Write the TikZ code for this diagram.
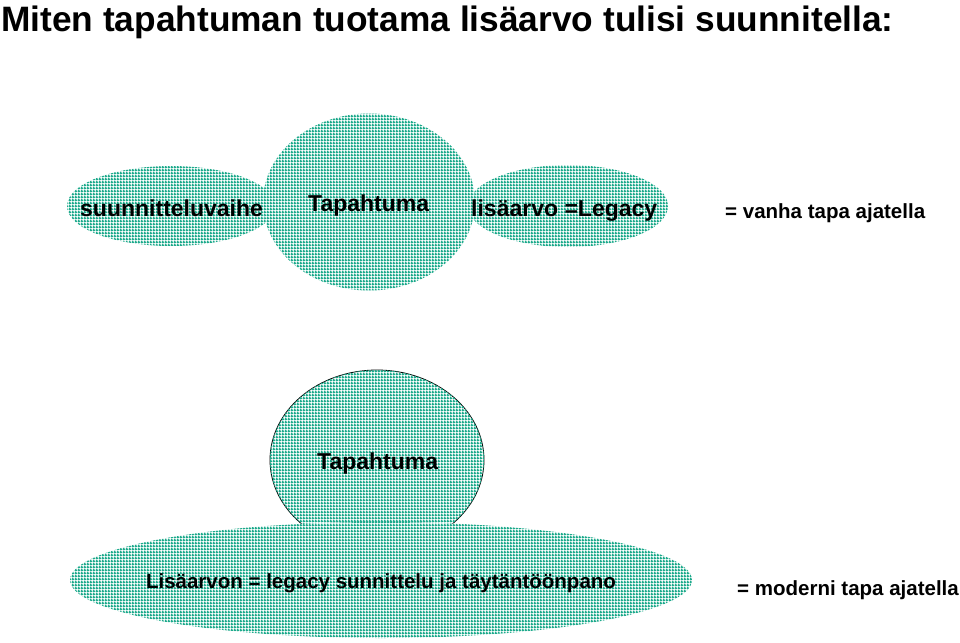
\documentclass[tikz,border=0pt]{standalone}
\usepackage{fontspec}
\setmainfont{Liberation Sans}
\usetikzlibrary{shapes.geometric,patterns.meta}
\definecolor{tealc}{RGB}{30,170,140}
\tikzdeclarepattern{
  name=tgrid,
  type=uncolored,
  bottom left={(0pt,0pt)},
  top right={(3pt,3pt)},
  tile size={(3pt,3pt)},
  code={
    \fill (0pt,0pt) rectangle (3pt,1.9pt);
    \fill (0pt,0pt) rectangle (1.9pt,3pt);
  }
}
\tikzset{
  blob/.style={ellipse, inner sep=0pt, fill=white, postaction={pattern={tgrid}, pattern color=tealc}},
  lbl/.style={font=\bfseries\fontsize{23}{26}\selectfont, anchor=base west, inner sep=0pt},
  side/.style={font=\bfseries\fontsize{20.5}{24}\selectfont, anchor=base west, inner sep=0pt},
}
\begin{document}
\begin{tikzpicture}[x=1pt,y=-1pt]
\useasboundingbox[fill=white] (0,0) rectangle (960,642);
% title
\node[font=\bfseries\fontsize{35.3}{40}\selectfont, anchor=base west, inner sep=0pt] (title) at (1,32) {Miten tapahtuman tuotama lisäarvo tulisi suunnitella:};
% top row
\node[blob, minimum width=208pt, minimum height=80pt] (suun) at (171,206) {};
\node[blob, minimum width=200pt, minimum height=82pt] (lisa) at (568,206) {};
\node[blob, minimum width=212pt, minimum height=177pt] (tap1) at (369,202) {};
\node[lbl] (t-suun) at (80,216) {suunnitteluvaihe};
\node[lbl] (t-tap1) at (308,211) {Tapahtuma};
\node[lbl] (t-lisa) at (471,216) {lisäarvo =Legacy};
\node[side] (vanha) at (725,218) {= vanha tapa ajatella};
% bottom
\node[blob, draw=black, line width=0.8pt, minimum width=214pt, minimum height=180pt] (tap2) at (377,460) {};
\node[blob, minimum width=622pt, minimum height=116pt] (lisa2) at (381,580) {};
\node[lbl] (t-tap2) at (317,469) {Tapahtuma};
\node[side, anchor=base] (t-lisa2) at (381,588) {Lisäarvon = legacy sunnittelu ja täytäntöönpano};
\node[side] (moderni) at (737,595) {= moderni tapa ajatella};
\end{tikzpicture}
\end{document}
